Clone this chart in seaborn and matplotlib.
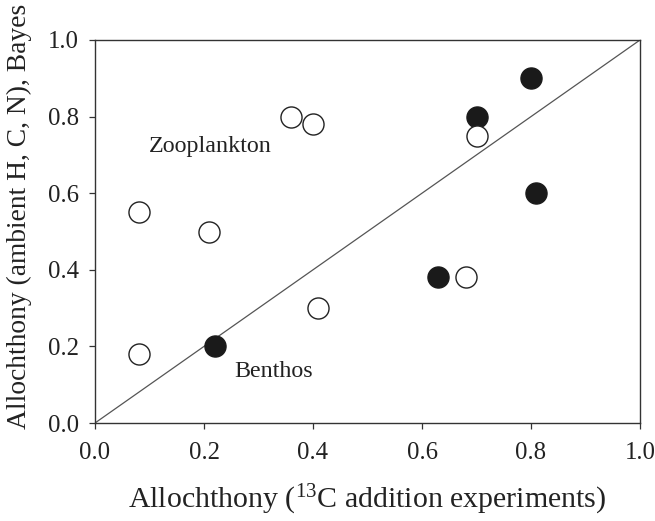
import matplotlib
matplotlib.use("Agg")
import matplotlib.pyplot as plt
import seaborn as sns
import pandas as pd

# Data
zoo_x = [0.08, 0.08, 0.21, 0.36, 0.40, 0.41, 0.68, 0.70]
zoo_y = [0.55, 0.18, 0.50, 0.80, 0.78, 0.30, 0.38, 0.75]
ben_x = [0.22, 0.63, 0.70, 0.80, 0.81]
ben_y = [0.20, 0.38, 0.80, 0.90, 0.60]
ticks = [0.0, 0.2, 0.4, 0.6, 0.8, 1.0]
tick_labels = ["0.0", "0.2", "0.4", "0.6", "0.8", "1.0"]

df = pd.DataFrame({
    "x": zoo_x + ben_x,
    "y": zoo_y + ben_y,
    "group": ["Zooplankton"] * len(zoo_x) + ["Benthos"] * len(ben_x),
})

sns.set_theme(style="ticks")
plt.rcParams["font.family"] = ["Liberation Serif", "DejaVu Serif"]
plt.rcParams["mathtext.fontset"] = "custom"
plt.rcParams["mathtext.rm"] = "Liberation Serif"
plt.rcParams["mathtext.it"] = "Liberation Serif:italic"

fig = plt.figure(figsize=(6.55, 5.21), dpi=100)
ax = fig.add_axes([95 / 655, 98 / 521, 545 / 655, 383 / 521])

ax.plot([0, 1], [0, 1], color="#555555", lw=0.9, zorder=1)

sns.scatterplot(data=df[df.group == "Zooplankton"], x="x", y="y", ax=ax,
                s=230, facecolor="white", edgecolor="#222222", linewidth=1.0,
                zorder=3, legend=False)
sns.scatterplot(data=df[df.group == "Benthos"], x="x", y="y", ax=ax,
                s=230, color="#1a1a1a", edgecolor="#1a1a1a", linewidth=1.0,
                zorder=2, legend=False)

ax.set_xlim(0, 1)
ax.set_ylim(0, 1)
ax.set_xticks(ticks)
ax.set_xticklabels(tick_labels)
ax.set_yticks(ticks)
ax.set_yticklabels(tick_labels)
ax.tick_params(direction="out", length=4.5, width=0.9, color="#333333",
               labelsize=17.8, labelcolor="#222222")
ax.tick_params(axis="x", pad=9)
ax.tick_params(axis="y", pad=7)
for sp in ax.spines.values():
    sp.set_visible(True)
    sp.set_color("#333333")
    sp.set_linewidth(1.0)

ax.set_xlabel("Allochthony ($^{13}$C addition experiments)", fontsize=21.5,
              color="#222222", labelpad=14)
ax.set_ylabel("Allochthony (ambient H, C, N), Bayes", fontsize=19.8,
              color="#222222")
ax.yaxis.set_label_coords(-0.115, 0.54)

ax.text(0.098, 0.708, "Zooplankton", fontsize=17.3, color="#222222",
        va="baseline", ha="left")
ax.text(0.256, 0.121, "Benthos", fontsize=17.3, color="#222222",
        va="baseline", ha="left")

fig.savefig("out.png", dpi=100)
